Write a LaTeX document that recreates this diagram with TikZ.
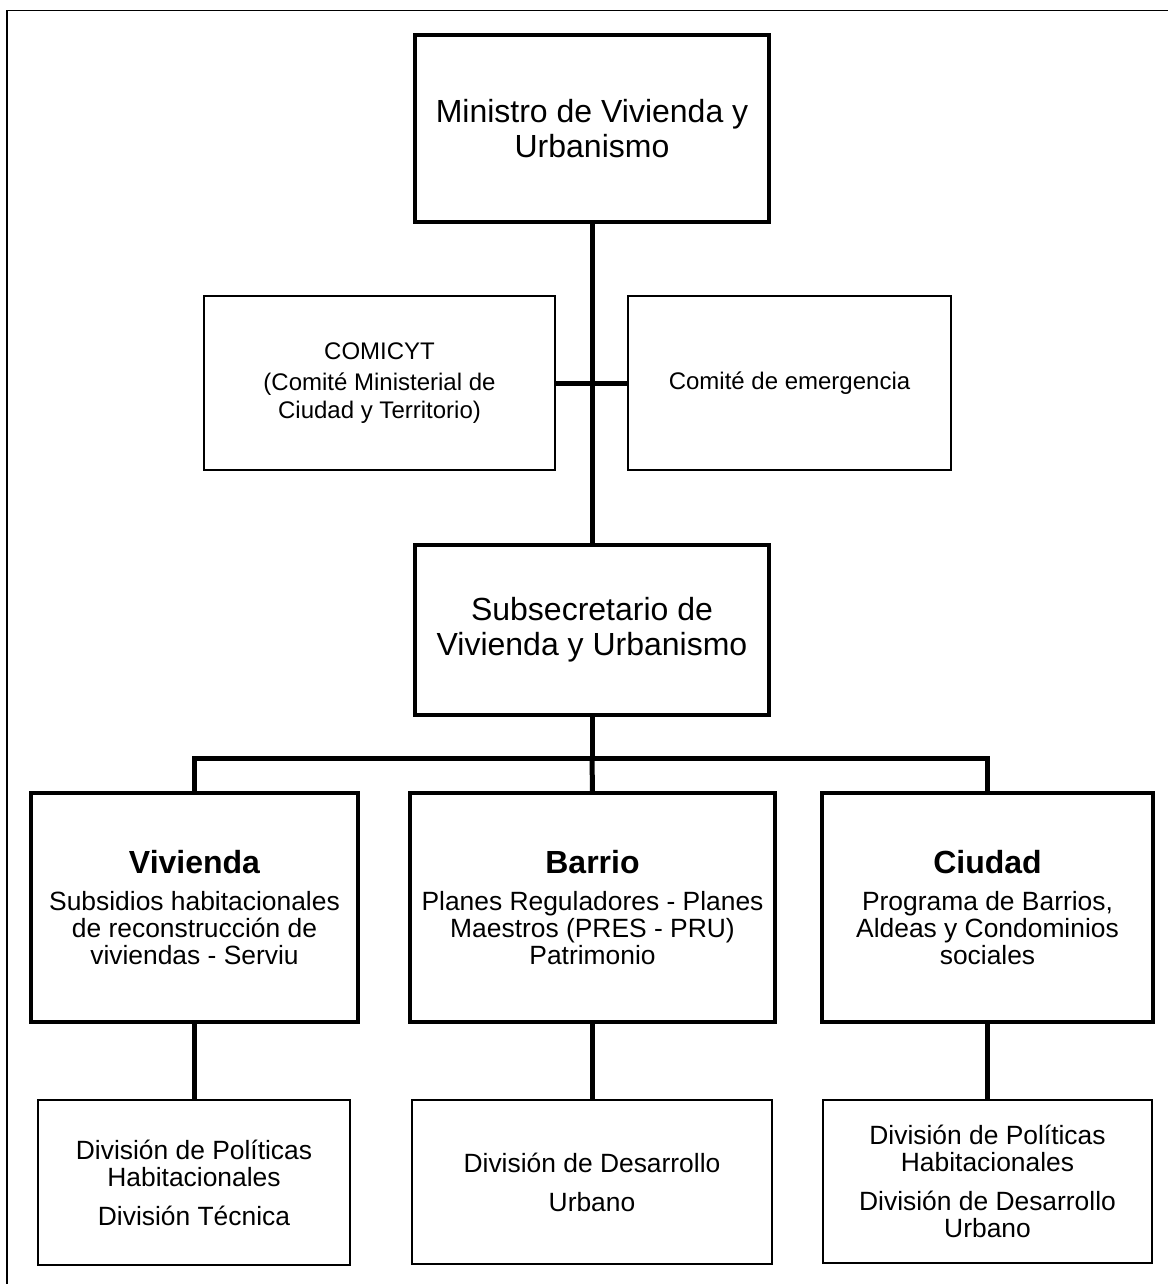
\documentclass[tikz,border=0pt]{standalone}
\usepackage{fontspec}
\setmainfont{Liberation Sans}
\newcommand\orgbox[7]{\node[#6, minimum width={(#4-#2)*0.5pt}, minimum height={(#5-#3)*0.5pt}] (#1) at ({(#2+#4)/2},{(#3+#5)/2}) {#7};}
\begin{document}
\begin{tikzpicture}[x=0.5pt,y=-0.5pt,
  thickbox/.style={draw, line width=2.2pt, align=center, inner sep=0pt, outer sep=0pt},
  thinbox/.style={draw, line width=1pt, align=center, inner sep=0pt, outer sep=0pt},
  conn/.style={line width=2.5pt},
  frameline/.style={line width=0.9pt},
  big/.style={font=\fontsize{16}{17.5}\selectfont},
  mid/.style={font=\fontsize{13.2}{13.5}\selectfont},
  small/.style={font=\fontsize{12}{13.8}\selectfont}]
\useasboundingbox (0,0) rectangle (1167,1284);
\draw[frameline] (7,1300) -- (7,10.5) -- (1180,10.5);

\orgbox{min}{415}{35}{769}{222}{thickbox,big}{Ministro de Vivienda y\\Urbanismo}
\orgbox{com}{204}{296}{555}{470}{thinbox,small}{COMICYT\\[2pt](Comité Ministerial de\\Ciudad y Territorio)}
\orgbox{eme}{628}{296}{951}{470}{thinbox,small}{Comité de emergencia}
\orgbox{sub}{415}{545}{769}{715}{thickbox,big}{Subsecretario de\\Vivienda y Urbanismo}

\orgbox{viv}{31}{793}{358}{1022}{thickbox,mid}{{\fontsize{16}{17.5}\selectfont\bfseries Vivienda}\\[5pt]Subsidios habitacionales\\de reconstrucción de\\viviendas - Serviu}
\orgbox{bar}{410}{793}{775}{1022}{thickbox,mid}{{\fontsize{16}{17.5}\selectfont\bfseries Barrio}\\[5pt]Planes Reguladores - Planes\\Maestros (PRES - PRU)\\Patrimonio}
\orgbox{ciu}{822}{793}{1153}{1022}{thickbox,mid}{{\fontsize{16}{17.5}\selectfont\bfseries Ciudad}\\[5pt]Programa de Barrios,\\Aldeas y Condominios\\sociales}

\orgbox{d1}{38}{1100}{350}{1265}{thinbox,mid}{División de Políticas\\Habitacionales\\[6pt]División Técnica}
\orgbox{d2}{412}{1100}{772}{1264}{thinbox,mid}{División de Desarrollo\\[6pt]Urbano}
\orgbox{d3}{823}{1100}{1152}{1263}{thinbox,mid}{División de Políticas\\Habitacionales\\[6pt]División de Desarrollo\\Urbano}

\coordinate (bus) at (592,758);
\draw[conn] (min.south) -- (sub.north);
\draw[conn] (com.east) -- (eme.west);
\draw[conn] (sub.south) -- (bus);
\draw[conn] (viv.north) |- (bus) -| (ciu.north);
\draw[conn] (bus) -- (bar.north);
\draw[conn] (viv.south) -- (viv.south |- d1.north);
\draw[conn] (bar.south) -- (bar.south |- d2.north);
\draw[conn] (ciu.south) -- (ciu.south |- d3.north);
\end{tikzpicture}
\end{document}
